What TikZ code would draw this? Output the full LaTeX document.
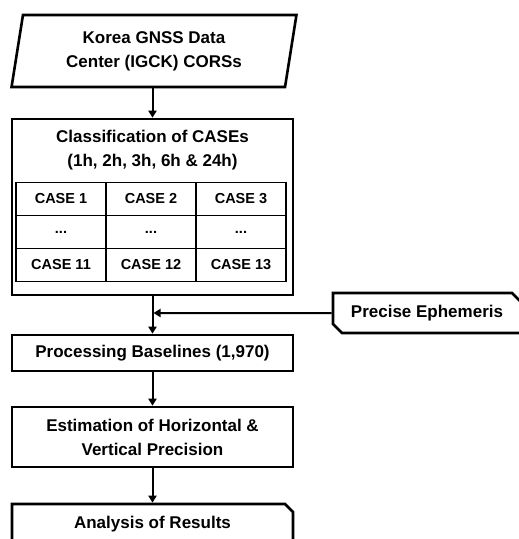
\documentclass[tikz,border=0pt]{standalone}
\usepackage{fontspec}
\setmainfont{Liberation Sans}
\usetikzlibrary{shapes.geometric,shapes.misc,arrows.meta,matrix}
\begin{document}
\begin{tikzpicture}[x=1pt,y=-1pt,>={Triangle[length=7pt,width=8pt]},line join=miter,
	font=\fontsize{17}{24}\selectfont\bfseries,
	box/.style={draw,line width=2.6pt,rectangle,minimum width=281pt,align=center,inner sep=0pt},
	arr/.style={->,line width=2pt}]
	\useasboundingbox (0,0) rectangle (519,539);
	\clip (0,0) rectangle (519,539);
	\node[draw,line width=2.6pt,trapezium,trapezium left angle=79,trapezium right angle=101,trapezium stretches=true,
		minimum width=285pt,minimum height=72pt,align=center,inner sep=0pt] (src) at (154,51) {Korea GNSS Data\\Center (IGCK) CORSs};
	\node[box,minimum height=176pt] (cls) at (152.5,207) {};
	\node[align=center] (clsT) at (152.5,150) {Classification of CASEs\\(1h, 2h, 3h, 6h \& 24h)};
	\matrix[matrix of nodes,column sep=-1.4pt,row sep=-1.4pt,
		nodes={draw,line width=1.4pt,minimum width=90pt,minimum height=33pt,inner sep=0pt,font=\fontsize{14.5}{17}\selectfont\bfseries}] (tab) at (151,232) {
		CASE 1 & CASE 2 & CASE 3\\
		... & ... & ...\\
		CASE 11 & CASE 12 & CASE 13\\
	};
	\node[box,minimum height=36pt] (proc) at (152.5,353) {Processing Baselines (1,970)};
	\node[box,minimum height=60pt] (est) at (152.5,437) {Estimation of Horizontal \&\\Vertical Precision};
	\node[box,chamfered rectangle,chamfered rectangle corners=north east,chamfered rectangle xsep=3pt,chamfered rectangle ysep=5pt,
		minimum height=40pt] (ana) at (152.5,524) {Analysis of Results};
	\node[draw,line width=2.6pt,chamfered rectangle,chamfered rectangle corners={north east,south west},chamfered rectangle xsep=3pt,
		chamfered rectangle ysep=6pt,minimum width=188pt,minimum height=40pt,inner sep=0pt] (eph) at (427,313) {Precise Ephemeris};
	\coordinate (jn) at (cls.south |- eph.west);
	\draw[arr] (src.south -| cls.north) -- (cls.north);
	\draw[arr] (cls) -- (proc);
	\draw[arr,shorten >=1pt] (eph) -- (jn);
	\draw[arr] (proc) -- (est);
	\draw[arr] (est) -- (ana);
\end{tikzpicture}
\end{document}
